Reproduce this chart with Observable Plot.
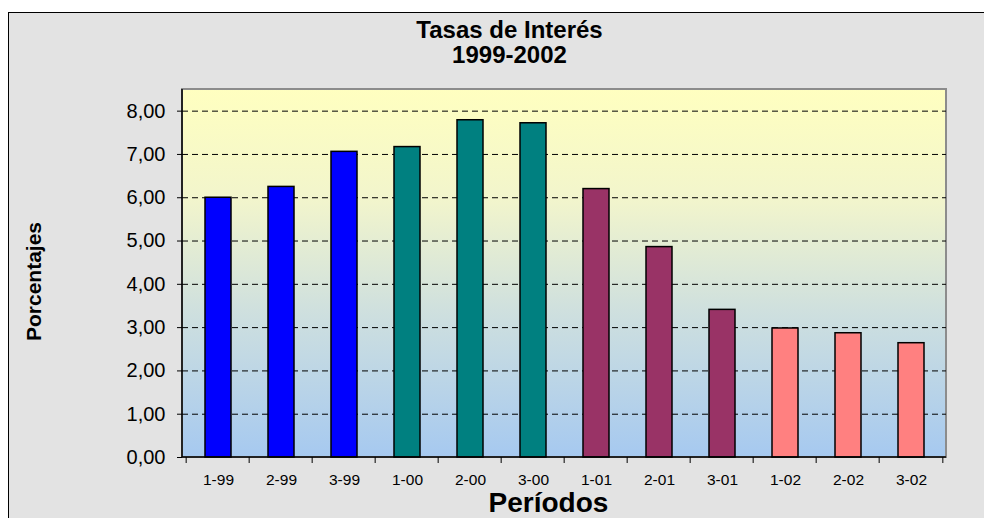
<!DOCTYPE html>
<html>
<head>
<meta charset="utf-8">
<script src="https://cdn.jsdelivr.net/npm/d3@7"></script>
<script src="https://cdn.jsdelivr.net/npm/@observablehq/plot@0.6"></script>
<style>
  html, body { margin: 0; padding: 0; background: #ffffff; }
  #wrap { position: relative; width: 984px; height: 518px; overflow: hidden; }
  #panel { position: absolute; left: 8px; top: 12px; width: 1000px; height: 530px;
           background: #e3e3e3; border: 1.5px solid #000; box-sizing: border-box; }
  #chart { position: absolute; left: 0; top: 0; }
  #chart svg { background: transparent; font-family: "Liberation Sans", Arial, sans-serif; }
</style>
</head>
<body>
<div id="wrap"><div id="panel"></div><div id="chart"></div></div>
<script>
// ---- data ----
const periods = ["1-99", "2-99", "3-99", "1-00", "2-00", "3-00", "1-01", "2-01", "3-01", "1-02", "2-02", "3-02"];
const rates   = [6.00, 6.25, 7.06, 7.17, 7.79, 7.72, 6.20, 4.86, 3.41, 2.98, 2.87, 2.64];
const years   = ["1999", "1999", "1999", "2000", "2000", "2000", "2001", "2001", "2001", "2002", "2002", "2002"];
const yearList   = ["1999", "2000", "2001", "2002"];
const yearColors = ["#0000ff", "#008080", "#993366", "#ff8080"];
const yTicks = [0, 1, 2, 3, 4, 5, 6, 7, 8];
const titleText = "Tasas de Interés";
const subtitleText = "1999-2002";
const yLabelText = "Porcentajes";
const xLabelText = "Períodos";

const data = periods.map((p, i) => ({period: p, rate: rates[i], year: years[i]}));
const fmt = d => d.toFixed(2).replace(".", ",");

// plot-area gradient background
function background(index, scales, values, dims) {
  const g = d3.create("svg:g");
  const grad = g.append("defs").append("linearGradient")
    .attr("id", "bgGrad").attr("x1", 0).attr("y1", 0).attr("x2", 0).attr("y2", 1);
  grad.append("stop").attr("offset", "0%").attr("stop-color", "#ffffc0");
  grad.append("stop").attr("offset", "30%").attr("stop-color", "#f2f5cc");
  grad.append("stop").attr("offset", "60%").attr("stop-color", "#cfe0de");
  grad.append("stop").attr("offset", "100%").attr("stop-color", "#a6c9f0");
  g.append("rect")
    .attr("x", dims.marginLeft).attr("y", dims.marginTop)
    .attr("width", dims.width - dims.marginLeft - dims.marginRight)
    .attr("height", dims.height - dims.marginTop - dims.marginBottom)
    .attr("fill", "url(#bgGrad)")
    .attr("stroke", "#8c8c8c").attr("stroke-width", 2);
  return g.node();
}

// axis lines + category boundary ticks
function axisLines(index, scales, values, dims) {
  const g = d3.create("svg:g").attr("stroke", "#000");
  const x = scales.x;
  const left = dims.marginLeft, right = dims.width - dims.marginRight;
  const top = dims.marginTop, bottom = dims.height - dims.marginBottom;
  g.append("line").attr("x1", left).attr("x2", left).attr("y1", top).attr("y2", bottom).attr("stroke-width", 1.5);
  g.append("line").attr("x1", left).attr("x2", right).attr("y1", bottom).attr("y2", bottom).attr("stroke-width", 1.5);
  const step = (right - left) / periods.length;
  const bw = x.bandwidth ? x.bandwidth() : 0;
  const bounds = periods.map(p => x(p) + bw / 2 - step / 2);
  bounds.push(x(periods[periods.length - 1]) + bw / 2 + step / 2);
  for (const b of bounds) {
    g.append("line").attr("x1", b).attr("x2", b).attr("y1", bottom).attr("y2", bottom + 6).attr("stroke-width", 1);
  }
  return g.node();
}

const chart = Plot.plot({
  width: 984,
  height: 518,
  marginLeft: 182,
  marginRight: 38,
  marginTop: 89,
  marginBottom: 61,
  x: {domain: periods, paddingInner: 0.59, paddingOuter: 0.295, axis: null},
  y: {domain: [0, 8.5], axis: null},
  color: {domain: yearList, range: yearColors},
  marks: [
    background,
    Plot.ruleY(yTicks.slice(1), {stroke: "#000", strokeWidth: 1, strokeDasharray: "6,4"}),
    Plot.barY(data, {x: "period", y: "rate", fill: "year", stroke: "#000", strokeWidth: 1.5}),
    axisLines,
    Plot.axisY(yTicks, {tickSize: 5, tickPadding: 12, tickFormat: fmt, fontSize: 20, label: null, stroke: "#000", fill: "#000"}),
    Plot.axisX(periods, {tickSize: 0, tickPadding: 16, fontSize: 15.5, label: null, fill: "#000"}),
    Plot.text([titleText], {frameAnchor: "top", lineAnchor: "middle", textAnchor: "middle", dx: -55, dy: -59.5, fontSize: 24, fontWeight: "bold", fill: "#000"}),
    Plot.text([subtitleText], {frameAnchor: "top", lineAnchor: "middle", textAnchor: "middle", dx: -55, dy: -34, fontSize: 24, fontWeight: "bold", fill: "#000"}),
    Plot.text([yLabelText], {frameAnchor: "left", lineAnchor: "middle", textAnchor: "middle", dx: -148, dy: 8, rotate: -90, fontSize: 21, fontWeight: "bold", fill: "#000"}),
    Plot.text([xLabelText], {frameAnchor: "bottom", lineAnchor: "middle", textAnchor: "middle", dx: -16, dy: 46, fontSize: 28, fontWeight: "bold", fill: "#000"})
  ]
});
document.getElementById("chart").appendChild(chart);
</script>
</body>
</html>
